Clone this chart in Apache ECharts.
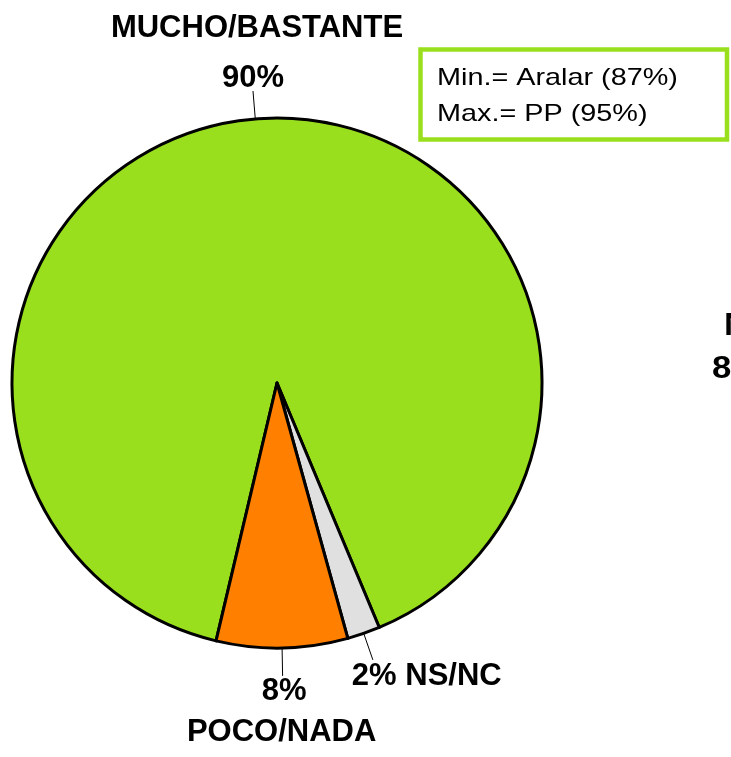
<!DOCTYPE html>
<html>
<head>
<meta charset="utf-8">
<script src="https://cdn.jsdelivr.net/npm/echarts@6/dist/echarts.min.js"></script>
<style>
  html, body { margin: 0; padding: 0; background: #fff; }
  #main { width: 731px; height: 757px; }
</style>
</head>
<body>
<div id="main"></div>
<script>
  // datos del gráfico
  const categories = ['MUCHO/BASTANTE', 'NS/NC', 'POCO/NADA'];
  const values = [90, 2, 8];
  const colors = ['#9ADF1E', '#E0E0E0', '#FF8000'];
  const noteLines = ['Min.= Aralar (87%)', 'Max.= PP (95%)'];
  // trozos de la etiqueta del gráfico vecino (cortado a la derecha)
  const cutLabels = ['N', '8'];

  const green = '#9ADF1E';
  const boldFont = 'bold 31px "Liberation Sans", Arial, sans-serif';

  const chart = echarts.init(document.getElementById('main'), null, { renderer: 'canvas' });

  const pieData = categories.map((name, i) => {
    let fmt;
    if (i === 0) fmt = '{n0|{b}}\n{p0|{d}%}';
    else if (i === 2) fmt = '{p2|{d}%}\n{n2|{b}}';
    else fmt = '{d}% {b}';
    return {
      name: name,
      value: values[i],
      itemStyle: { color: colors[i] },
      label: { formatter: fmt }
    };
  });

  const option = {
    backgroundColor: '#fff',
    animation: false,
    series: [{
      type: 'pie',
      center: [277, 383],
      radius: 265,
      startAngle: -103.3,
      clockwise: true,
      avoidLabelOverlap: false,
      itemStyle: { borderColor: '#000', borderWidth: 3 },
      label: {
        show: true,
        position: 'outside',
        color: '#000',
        fontFamily: '"Liberation Sans", Arial, sans-serif',
        fontWeight: 'bold',
        fontSize: 31,
        rich: {
          n0: { fontSize: 31, fontWeight: 'bold', lineHeight: 74, color: '#000', padding: [0, 0, 0, 8] },
          p0: { fontSize: 31, fontWeight: 'bold', lineHeight: 26, color: '#000' },
          p2: { fontSize: 31, fontWeight: 'bold', lineHeight: 32, color: '#000', padding: [0, 0, 0, 5] },
          n2: { fontSize: 31, fontWeight: 'bold', lineHeight: 50, color: '#000' }
        }
      },
      labelLine: {
        show: true,
        length: 28,
        length2: 0,
        smooth: false,
        lineStyle: { color: '#000', width: 1 }
      },
      labelLayout: function (p) {
        const pts = p.labelLinePoints;
        if (!pts) return {};
        const end = pts[1];
        if (p.dataIndex === 0) {
          return { x: end[0], y: end[1], align: 'center', verticalAlign: 'bottom', labelLinePoints: pts };
        }
        if (p.dataIndex === 2) {
          return { x: end[0] - 1, y: end[1], align: 'center', verticalAlign: 'top', labelLinePoints: pts };
        }
        return { x: end[0] - 21, y: end[1] + 17, align: 'left', verticalAlign: 'middle', labelLinePoints: pts };
      },
      data: pieData
    }],
    graphic: [
      {
        type: 'rect',
        shape: { x: 420.5, y: 49.5, width: 306.5, height: 90 },
        style: { fill: '#fff', stroke: green, lineWidth: 4.5 },
        z: 10
      },
      {
        type: 'text', x: 437, y: 78, scaleX: 1.2, z: 11,
        style: { text: noteLines[0], font: '24px "Liberation Sans", Arial, sans-serif', fill: '#000', textVerticalAlign: 'middle' }
      },
      {
        type: 'text', x: 437, y: 114, scaleX: 1.2, z: 11,
        style: { text: noteLines[1], font: '24px "Liberation Sans", Arial, sans-serif', fill: '#000', textVerticalAlign: 'middle' }
      },
      {
        type: 'text', x: 724, y: 326, scaleX: 1.12,
        style: { text: cutLabels[0], font: boldFont, fill: '#000', textVerticalAlign: 'middle' }
      },
      {
        type: 'text', x: 712, y: 369, scaleX: 1.12,
        style: { text: cutLabels[1], font: boldFont, fill: '#000', textVerticalAlign: 'middle' }
      }
    ]
  };

  chart.setOption(option);
</script>
</body>
</html>
